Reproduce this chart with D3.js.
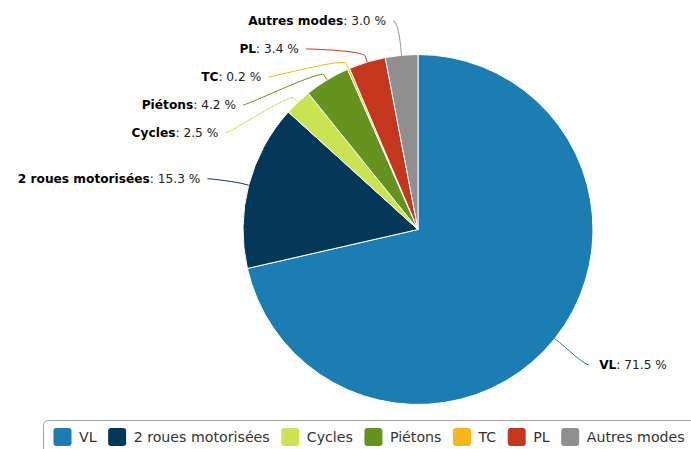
<!DOCTYPE html>
<html>
<head>
<meta charset="utf-8">
<script src="https://cdn.jsdelivr.net/npm/d3@7"></script>
<style>
  html, body { margin: 0; padding: 0; background: #fff; }
  svg { display: block; font-family: "DejaVu Sans", Verdana, sans-serif; }
</style>
</head>
<body>
<svg id="chart" width="691" height="449"></svg>
<script>
// Modal share of trips, in percent
const categories = ["VL", "2 roues motorisées", "Cycles", "Piétons", "TC", "PL", "Autres modes"];
const shares = [71.5, 15.3, 2.5, 4.2, 0.2, 3.4, 3.0];
const colors = ["#1b7db1", "#053759", "#c9e353", "#64931f", "#f8b718", "#c5361f", "#8f8f8f"];

const width = 691, height = 449;
const cx = 418, cy = 229.5, radius = 175;
const labelDistance = 37.5;          // from slice edge to label anchor
const labelSpacing = 28;             // minimum vertical gap between stacked labels
const labelShift = 3;                // label baseline offset from its anchor
const connectorOffset = 6;

const svg = d3.select("#chart");

const pie = d3.pie().sort(null).value(d => d);
const arcs = pie(shares).map((a, i) => ({ ...a, name: categories[i], color: colors[i], i }));
const arc = d3.arc().innerRadius(0).outerRadius(radius);

const g = svg.append("g").attr("transform", `translate(${cx},${cy})`);
g.selectAll("path.slice")
  .data(arcs)
  .join("path")
  .attr("class", "slice")
  .attr("d", arc)
  .attr("fill", d => d.color)
  .attr("stroke", "#fff")
  .attr("stroke-width", 1)
  .attr("stroke-linejoin", "round");

// Label layout: anchors on a circle of radius + distance, stacked per side
const R = radius + labelDistance;
arcs.forEach(d => {
  d.mid = (d.startAngle + d.endAngle) / 2;
  d.left = Math.sin(d.mid) < 0;
  d.naturalY = cy - R * Math.cos(d.mid);
});

function stack(items) {
  items.sort((a, b) => a.naturalY - b.naturalY);
  let prev = -Infinity;
  items.forEach(d => {
    d.ly = Math.max(d.naturalY, prev + labelSpacing, cy - R);
    prev = d.ly;
  });
  let next = Infinity;
  for (let k = items.length - 1; k >= 0; k--) {
    const d = items[k];
    d.ly = Math.min(d.ly, next - labelSpacing, cy + R);
    next = d.ly;
  }
}
stack(arcs.filter(d => d.left));
stack(arcs.filter(d => !d.left));

arcs.forEach(d => {
  const dy = Math.max(-1, Math.min(1, (d.ly - cy) / R));
  d.lx = cx + (d.left ? -1 : 1) * Math.cos(Math.asin(dy)) * R;
  d.ty = d.ly + labelShift;
});

const fmt = d3.format(".1f");

// Curved connectors from label to slice edge
const conn = d => {
  const s = Math.sin(d.mid), c = -Math.cos(d.mid);
  const p4 = [cx + s * radius, cy + c * radius];
  const p2 = [cx + s * (radius + connectorOffset), cy + c * (radius + connectorOffset)];
  const ctrl = [2 * p2[0] - p4[0], 2 * p2[1] - p4[1]];
  const sx = d.lx + (d.left ? -5 : 5);
  const p = d3.path();
  p.moveTo(sx, d.ty);
  p.bezierCurveTo(d.lx, d.ty, ctrl[0], ctrl[1], p2[0], p2[1]);
  p.lineTo(p4[0], p4[1]);
  return p.toString();
};

svg.append("g")
  .selectAll("path")
  .data(arcs)
  .join("path")
  .attr("d", conn)
  .attr("fill", "none")
  .attr("stroke", d => d.color)
  .attr("stroke-width", 1);

const labels = svg.append("g")
  .selectAll("text")
  .data(arcs)
  .join("text")
  .attr("x", d => d.left ? d.lx - 12 : d.lx + 15)
  .attr("y", d => d.ty + 4)
  .attr("text-anchor", d => d.left ? "end" : "start")
  .attr("font-size", 12.2);
labels.append("tspan").attr("font-weight", "bold").attr("fill", "#000").text(d => d.name);
labels.append("tspan").attr("fill", "#222").text(d => `: ${fmt(d.value)} %`);

// Legend
const legend = svg.append("g");
legend.append("rect")
  .attr("x", 43.5).attr("y", 420.5)
  .attr("width", 700).attr("height", 60)
  .attr("rx", 5)
  .attr("fill", "#fff")
  .attr("stroke", "#a0a0a0")
  .attr("stroke-width", 1);

let lx = 53.5;
const symbol = 18, symbolGap = 7.5, itemGap = 11.5, legendY = 437;
categories.forEach((name, i) => {
  const item = legend.append("g").attr("transform", `translate(${lx},0)`);
  item.append("rect")
    .attr("x", 0).attr("y", legendY - symbol / 2)
    .attr("width", symbol).attr("height", symbol)
    .attr("rx", 3)
    .attr("fill", colors[i]);
  const t = item.append("text")
    .attr("x", symbol + symbolGap).attr("y", legendY + 5)
    .attr("font-size", 14.2)
    .attr("fill", "#333")
    .text(name);
  lx += symbol + symbolGap + t.node().getComputedTextLength() + itemGap;
});
</script>
</body>
</html>
